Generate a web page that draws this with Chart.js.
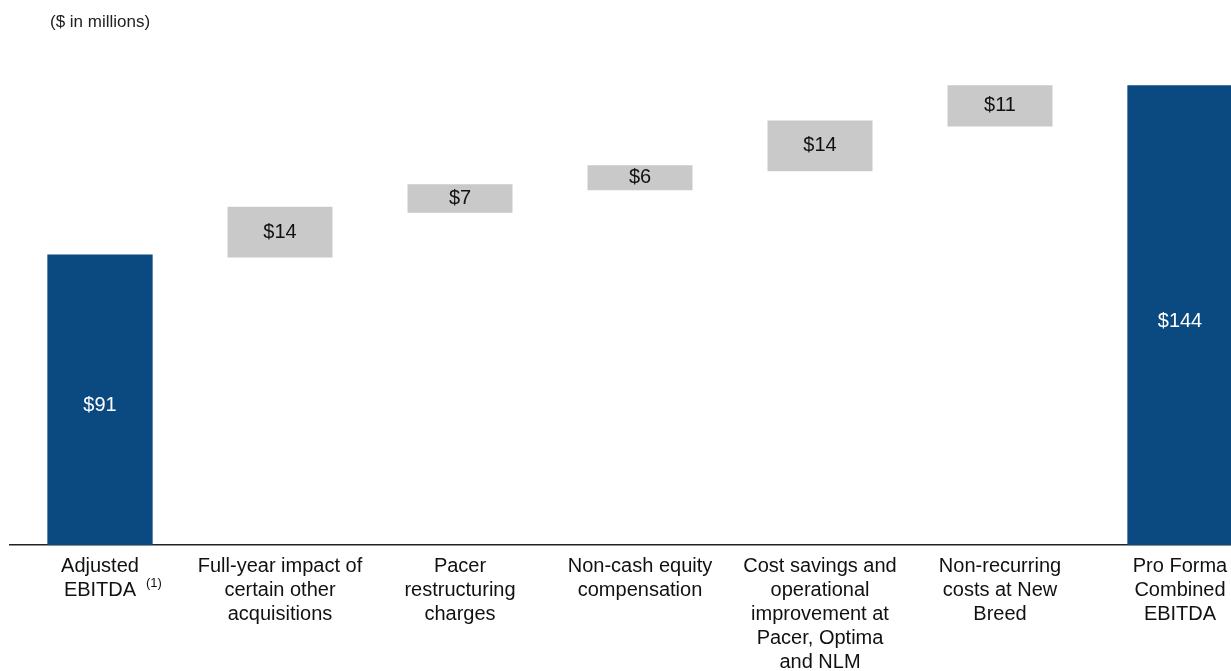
<!DOCTYPE html>
<html>
<head>
<meta charset="utf-8">
<script src="https://cdn.jsdelivr.net/npm/chart.js@4.4.1/dist/chart.umd.min.js"></script>
<style>
  html, body { margin: 0; padding: 0; background: #fff; overflow: hidden; }
  #wrap { position: relative; width: 1270px; height: 671px; }
  #unit { position: absolute; left: 50px; top: 12px; font: 17px "Liberation Sans", Arial, sans-serif; color: #222; }
</style>
</head>
<body>
<div id="wrap">
  <div id="unit">($ in millions)</div>
  <canvas id="bridge" width="1270" height="671"></canvas>
</div>
<script>
// categories, shown as multi-line tick labels
const categories = [
    ['Adjusted', 'EBITDA'],
    ['Full-year impact of', 'certain other', 'acquisitions'],
    ['Pacer', 'restructuring', 'charges'],
    ['Non-cash equity', 'compensation'],
    ['Cost savings and', 'operational', 'improvement at', 'Pacer, Optima', 'and NLM'],
    ['Non-recurring', 'costs at New', 'Breed'],
    ['Pro Forma', 'Combined', 'EBITDA']
];
// step values ($M) and which ones are totals
const stepValues = [91, 14, 7, 6, 14, 11, 144];
const isTotal = [true, false, false, false, false, false, true];
const valueLabels = ['$91', '$14', '$7', '$6', '$14', '$11', '$144'];
const footnote = '(1)';

const blue = '#0b4a80';
const grey = '#c9c9c9';
const fontFamily = '"Liberation Sans", Arial, sans-serif';

// build floating ranges for the waterfall
const totalRanges = [];
const stepRanges = [];
let running = 0;
stepValues.forEach((v, i) => {
    if (isTotal[i]) {
        totalRanges.push([0, v]);
        stepRanges.push(null);
        running = v;
    } else {
        totalRanges.push(null);
        stepRanges.push([running, running + v]);
        running += v;
    }
});

const valueLabelPlugin = {
    id: 'valueLabels',
    afterDatasetsDraw(chart) {
        const ctx = chart.ctx;
        ctx.save();
        ctx.font = '20px ' + fontFamily;
        ctx.textAlign = 'center';
        ctx.textBaseline = 'middle';
        [0, 1].forEach(d => {
            chart.getDatasetMeta(d).data.forEach((bar, i) => {
                if (!chart.data.datasets[d].data[i]) return;
                ctx.fillStyle = isTotal[i] ? '#ffffff' : '#111111';
                // totals sit a little below the middle in the original
                const shift = isTotal[i] ? 6 : 0;
                ctx.fillText(valueLabels[i], bar.x, (bar.y + bar.base) / 2 + shift);
            });
        });
        ctx.restore();
    },
    afterDraw(chart) {
        // superscript footnote marker next to "EBITDA"
        const ctx = chart.ctx;
        const x = chart.scales.x.getPixelForTick(0);
        ctx.save();
        ctx.font = '13px ' + fontFamily;
        ctx.fillStyle = '#111';
        ctx.textAlign = 'left';
        ctx.textBaseline = 'middle';
        ctx.fillText(footnote, x + 46, chart.chartArea.bottom + 38);
        ctx.restore();
    }
};

new Chart(document.getElementById('bridge'), {
    type: 'bar',
    data: {
        labels: categories,
        datasets: [{
            data: totalRanges,
            backgroundColor: blue,
            borderWidth: 0,
            inflateAmount: 0,
            categoryPercentage: 1,
            barPercentage: 0.585,
            grouped: false
        }, {
            data: stepRanges,
            backgroundColor: grey,
            borderWidth: 0,
            inflateAmount: 3,
            categoryPercentage: 1,
            barPercentage: 0.55,
            grouped: false
        }]
    },
    options: {
        responsive: false,
        animation: false,
        layout: { padding: { left: 10, right: 0, top: 66, bottom: 0 } },
        plugins: { legend: { display: false }, tooltip: { enabled: false } },
        scales: {
            x: {
                grid: { display: false },
                border: { display: true, color: '#222', width: 1.5 },
                ticks: {
                    autoSkip: false,
                    maxRotation: 0,
                    padding: 2,
                    color: '#111',
                    font: { family: fontFamily, size: 20, lineHeight: 1.19 }
                },
                afterFit(scale) { scale.height = 126; }
            },
            y: {
                display: false,
                min: 0,
                max: 150
            }
        }
    },
    plugins: [valueLabelPlugin]
});
</script>
</body>
</html>
